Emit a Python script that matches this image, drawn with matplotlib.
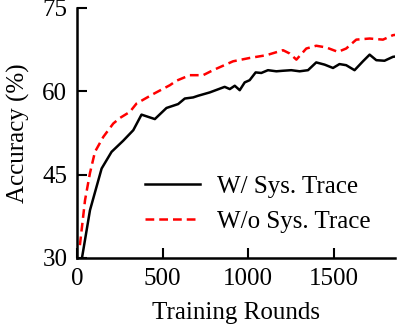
import numpy as np
import matplotlib
matplotlib.use('Agg')
import matplotlib.pyplot as plt

plt.rcParams['font.family'] = ['Liberation Serif', 'DejaVu Serif']
plt.rcParams['font.size'] = 18

# rounds / accuracy
rounds_sys = [27, 76, 144, 202, 270, 329, 377, 455, 523, 591, 630, 679, 708, 776,
              863, 893, 922, 951, 980, 1009, 1044, 1077, 1116, 1165, 1204, 1252,
              1301, 1350, 1398, 1447, 1496, 1534, 1573, 1622, 1671, 1710, 1749,
              1797, 1846, 1870]
acc_sys = [29.6, 38.6, 46.1, 49.1, 51.1, 53.0, 55.8, 55.0, 57.0, 57.7, 58.7, 58.9,
           59.2, 59.8, 60.8, 60.4, 61.0, 60.2, 61.6, 62.0, 63.4, 63.3, 63.8, 63.6,
           63.7, 63.8, 63.6, 63.8, 65.2, 64.8, 64.2, 64.9, 64.7, 63.8, 65.4, 66.6,
           65.6, 65.5, 66.2, 66.3]

rounds_nosys = [17, 47, 76, 105, 154, 212, 251, 309, 348, 445, 543, 581, 659, 737,
                795, 912, 1009, 1107, 1204, 1243, 1282, 1340, 1398, 1456, 1525,
                1573, 1632, 1710, 1788, 1846, 1870]
acc_nosys = [32.3, 40.4, 45.3, 49.1, 51.8, 54.2, 55.2, 56.3, 57.8, 59.5, 61.1, 61.9,
             62.9, 62.9, 63.8, 65.4, 66.0, 66.5, 67.4, 66.8, 65.7, 67.7, 68.2, 67.9,
             67.1, 67.7, 69.3, 69.5, 69.3, 70.1, 70.2]

fig = plt.figure(figsize=(4.15, 3.32), dpi=100)
ax = fig.add_axes([0.1855, 0.223, 0.767, 0.753])

ax.plot(rounds_sys, acc_sys, color='black', lw=1.8, label='W/ Sys. Trace')
ax.plot(rounds_nosys, acc_nosys, color='red', lw=1.8, ls=(0, (3.5, 2)),
        label='W/o Sys. Trace')

ax.set_xlim(0, 1860)
ax.set_ylim(30, 75)
ax.set_xticks([0, 500, 1000, 1500])
ax.set_yticks([30, 45, 60, 75])
ax.spines['top'].set_visible(False)
ax.spines['right'].set_visible(False)
for s in ('left', 'bottom'):
    ax.spines[s].set_linewidth(1.8)
ax.tick_params(direction='in', length=7, width=1.5, pad=7)

ax.set_xlabel('Training Rounds', labelpad=9)
ax.set_ylabel('Accuracy (%)', labelpad=9)

ax.legend(loc='lower right', bbox_to_anchor=(0.97, 0.04), frameon=False,
          handlelength=2.2, handletextpad=0.7, labelspacing=0.5, borderaxespad=0.2)

fig.savefig('out.png', dpi=100)
